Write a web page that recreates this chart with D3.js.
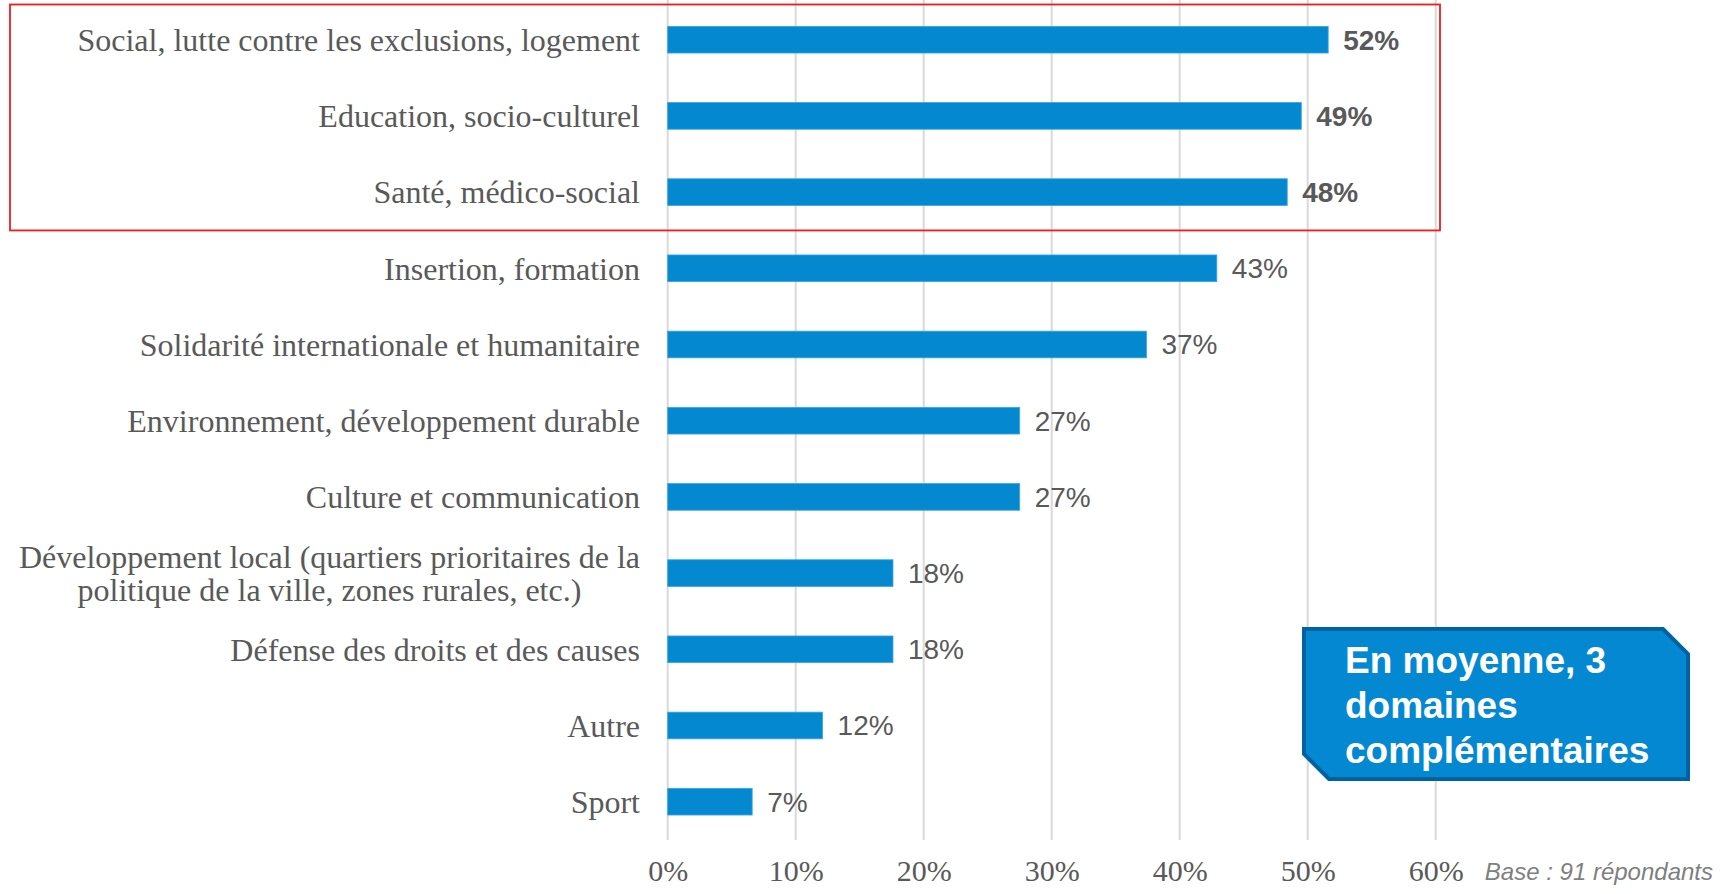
<!DOCTYPE html>
<html>
<head>
<meta charset="utf-8">
<script src="https://cdn.jsdelivr.net/npm/d3@7"></script>
<style>
  html, body { margin: 0; padding: 0; background: #ffffff; }
  svg { display: block; }
</style>
</head>
<body>
<svg id="chart" width="1729" height="894"></svg>
<script>
const categories = [
  ["Social, lutte contre les exclusions, logement"],
  ["Education, socio-culturel"],
  ["Santé, médico-social"],
  ["Insertion, formation"],
  ["Solidarité internationale et humanitaire"],
  ["Environnement, développement durable"],
  ["Culture et communication"],
  ["Développement local (quartiers prioritaires de la", "politique de la ville, zones rurales, etc.)"],
  ["Défense des droits et des causes"],
  ["Autre "],
  ["Sport"]
];
const values = [0.516, 0.495, 0.484, 0.429, 0.374, 0.275, 0.275, 0.176, 0.176, 0.121, 0.066];
const valueLabels = ["52%", "49%", "48%", "43%", "37%", "27%", "27%", "18%", "18%", "12%", "7%"];
const highlighted = [true, true, true, false, false, false, false, false, false, false, false];
const tickValues = [0, 0.1, 0.2, 0.3, 0.4, 0.5, 0.6];
const calloutLines = ["En moyenne, 3", "domaines", "complémentaires"];
const baseNote = "Base : 91 répondants";

const svg = d3.select("#chart");
const ids = categories.map((c, i) => i);

const x = d3.scaleLinear().domain([0, 0.6]).range([667.7, 1435.7]);
const y = d3.scaleBand().domain(ids).range([1.6, 839.8]).paddingInner(0.65).paddingOuter(0.325);

const gray = "#595959";
const barColor = "#0489d1";

// gridlines
svg.append("g").selectAll("line").data(tickValues).join("line")
  .attr("x1", d => x(d)).attr("x2", d => x(d))
  .attr("y1", 0).attr("y2", 840)
  .attr("stroke", "#d9d9d9").attr("stroke-width", 2);

// x axis tick labels
const xAxis = d3.axisBottom(x).tickValues(tickValues).tickFormat(d3.format(".0%")).tickSize(0);
const gx = svg.append("g").attr("transform", "translate(0,857)").call(xAxis);
gx.select(".domain").remove();
gx.selectAll("text")
  .attr("font-family", "'Liberation Serif', 'Times New Roman', serif")
  .attr("font-size", 30).attr("fill", gray);

// bars
svg.append("g").selectAll("rect").data(values).join("rect")
  .attr("x", x(0))
  .attr("y", (d, i) => y(i))
  .attr("width", d => x(d) - x(0))
  .attr("height", y.bandwidth())
  .attr("fill", barColor)
  .attr("stroke", "#3aa5e0").attr("stroke-width", 0.8);

// value labels
svg.append("g").selectAll("text").data(values).join("text")
  .attr("x", d => x(d) + 15)
  .attr("y", (d, i) => y(i) + y.bandwidth() / 2)
  .attr("dy", "0.35em")
  .attr("font-family", "'Liberation Sans', Arial, sans-serif")
  .attr("font-size", 28)
  .attr("font-weight", (d, i) => highlighted[i] ? "bold" : "normal")
  .attr("fill", gray)
  .text((d, i) => valueLabels[i]);

// category labels
const lab = svg.append("g").selectAll("text").data(categories).join("text")
  .attr("x", 640)
  .attr("y", (d, i) => y(i) + y.bandwidth() / 2)
  .attr("text-anchor", "end")
  .attr("font-family", "'Liberation Serif', 'Times New Roman', serif")
  .attr("font-size", 32)
  .attr("fill", gray);
lab.each(function(lines) {
  const t = d3.select(this);
  const n = lines.length;
  lines.forEach((ln, k) => {
    t.append("tspan")
      .attr("x", 640)
      .attr("dy", k === 0 ? ((0.35 - (n - 1) * 0.52) + "em") : "1.04em")
      .text(ln);
  });
});
// center the two-line label
lab.filter(d => d.length > 1).attr("text-anchor", "middle").each(function() {
  const t = d3.select(this);
  const w = this.getBBox().width;
  t.selectAll("tspan").attr("x", 640 - w / 2);
});

// red highlight frame
svg.append("rect")
  .attr("x", 10).attr("y", 4.5)
  .attr("width", 1430).attr("height", y(2) + y.bandwidth() + 25 - 4.5)
  .attr("fill", "none").attr("stroke", "#ee1c1c").attr("stroke-width", 1.8);

// callout box
const bx = 1304, by = 629, bw = 384, bh = 150, cut = 25;
svg.append("path")
  .attr("d", `M${bx},${by} L${bx + bw - cut},${by} L${bx + bw},${by + cut} L${bx + bw},${by + bh} L${bx + cut},${by + bh} L${bx},${by + bh - cut} Z`)
  .attr("fill", "#0588d2").attr("stroke", "#0063a1").attr("stroke-width", 4).attr("stroke-linejoin", "miter");
svg.append("g").selectAll("text").data(calloutLines).join("text")
  .attr("x", 1345)
  .attr("y", (d, i) => 673 + i * 45)
  .attr("font-family", "'Liberation Sans', Arial, sans-serif")
  .attr("font-size", 37).attr("font-weight", "bold")
  .attr("fill", "#ffffff")
  .text(d => d);

// base note
svg.append("text")
  .attr("x", 1713).attr("y", 880)
  .attr("text-anchor", "end")
  .attr("font-family", "'Liberation Sans', Arial, sans-serif")
  .attr("font-size", 24).attr("font-style", "italic")
  .attr("fill", "#7f7f7f")
  .text(baseNote);
</script>
</body>
</html>
